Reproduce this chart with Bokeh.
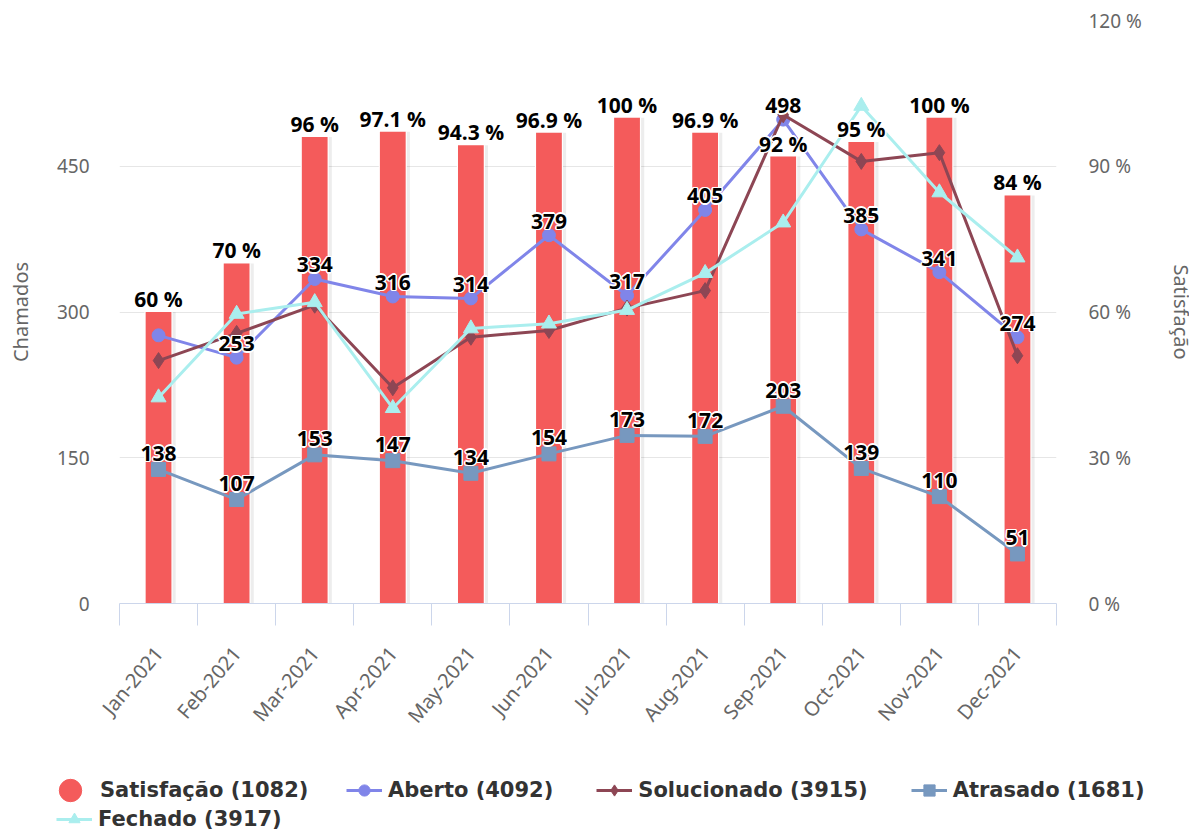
import numpy as np
from bokeh.plotting import figure
from bokeh.models import (Range1d, LinearAxis, FixedTicker, ColumnDataSource, Legend,
                          LegendItem, PrintfTickFormatter)
from bokeh.core.properties import value
from bokeh.embed import file_html
from bokeh.resources import INLINE

# ---------------- data ----------------
months = ["Jan-2021", "Feb-2021", "Mar-2021", "Apr-2021", "May-2021", "Jun-2021",
          "Jul-2021", "Aug-2021", "Sep-2021", "Oct-2021", "Nov-2021", "Dec-2021"]
satisfacao = [60, 70, 96, 97.1, 94.3, 96.9, 100, 96.9, 92, 95, 100, 84]
aberto = [276, 253, 334, 316, 314, 379, 317, 405, 498, 385, 341, 274]
solucionado = [250, 278, 307, 222, 274, 281, 304, 322, 503, 455, 464, 255]
atrasado = [138, 107, 153, 147, 134, 154, 173, 172, 203, 139, 110, 51]
fechado = [212, 298, 310, 201, 283, 288, 302, 340, 392, 512, 423, 356]
left_ticks = [0, 150, 300, 450]
grid_ticks = [0, 150, 300, 450, 600]
right_ticks = [0, 30, 60, 90, 120]
legend_labels = ["Satisfação (1082)", "Aberto (4092)", "Solucionado (3915)",
                 "Atrasado (1681)", "Fechado (3917)"]

C_SAT, C_AB, C_SOL, C_ATR, C_FEC = "#f45b5b", "#8085e9", "#8d4654", "#7798BF", "#aaeeee"
TICK_FONT = "Noto Sans"
LABEL_FONT = "Open Sans"
LEGEND_FONT = "DejaVu Sans"

xs = np.arange(len(months))

src = ColumnDataSource(dict(
    x=xs, sat=satisfacao, ab=aberto, sol=solucionado, atr=atrasado, fec=fechado,
    sat_lbl=[("%g" % v) + " %" for v in satisfacao],
    ab_lbl=[""] + [str(v) for v in aberto[1:]],
    atr_lbl=[str(v) for v in atrasado],
))

p = figure(frame_width=937, frame_height=583,
           x_range=Range1d(-0.5, len(months) - 0.5),
           y_range=Range1d(0, 600), output_backend="svg", toolbar_location=None,
           min_border_left=119, min_border_right=132, min_border_top=20,
           min_border_bottom=140, background_fill_color="white",
           border_fill_color="white")
p.extra_y_ranges = {"pct": Range1d(0, 120)}
p.outline_line_color = None
p.xgrid.grid_line_color = None
p.ygrid.ticker = FixedTicker(ticks=grid_ticks)
p.ygrid.grid_line_color = "#e6e6e6"
p.ygrid.grid_line_width = 1

# x axis (ticks on category boundaries, labels at centers)
xa = p.xaxis[0]
xa.ticker = FixedTicker(ticks=list(xs), minor_ticks=list(np.arange(len(months) + 1) - 0.5))
xa.major_label_overrides = {int(i): m for i, m in zip(xs, months)}
xa.major_label_orientation = 0.87
xa.axis_line_color = "#ccd6eb"
xa.major_tick_line_color = None
xa.major_tick_out = 0
xa.major_tick_in = 0
xa.minor_tick_line_color = "#ccd6eb"
xa.minor_tick_out = 22
xa.minor_tick_in = 0
xa.major_label_standoff = 24
xa.major_label_text_font = TICK_FONT
xa.major_label_text_font_size = "20px"
xa.major_label_text_color = "#666666"

# left axis
ya = p.yaxis[0]
ya.ticker = FixedTicker(ticks=left_ticks)
ya.axis_line_color = None
ya.major_tick_line_color = None
ya.minor_tick_line_color = None
ya.major_tick_out = 0
ya.major_label_standoff = 30
ya.major_label_text_font = TICK_FONT
ya.major_label_text_font_size = "19px"
ya.major_label_text_color = "#666666"
ya.axis_label = "Chamados"
ya.axis_label_text_font = TICK_FONT
ya.axis_label_text_font_size = "20px"
ya.axis_label_text_font_style = "normal"
ya.axis_label_text_color = "#666666"
ya.axis_label_standoff = 20

# right axis
ra = LinearAxis(y_range_name="pct", ticker=FixedTicker(ticks=right_ticks),
                formatter=PrintfTickFormatter(format="%d %%"))
ra.axis_line_color = None
ra.major_tick_line_color = None
ra.minor_tick_line_color = None
ra.major_tick_out = 0
ra.major_label_standoff = 32
ra.major_label_text_font = TICK_FONT
ra.major_label_text_font_size = "19px"
ra.major_label_text_color = "#666666"
ra.axis_label = "Satisfação"
ra.axis_label_text_font = TICK_FONT
ra.axis_label_text_font_size = "20px"
ra.axis_label_text_font_style = "normal"
ra.axis_label_text_color = "#666666"
ra.axis_label_standoff = 23
p.add_layout(ra, "right")

# bars: soft shadow + white border + red column
p.vbar(x=xs + 0.03, top=satisfacao, width=0.38, y_range_name="pct",
       fill_color="#000000", fill_alpha=0.07, line_color=None)
p.vbar(x=xs, top=satisfacao, width=0.36, y_range_name="pct",
       fill_color="white", line_color=None)
p.vbar(x="x", top="sat", width=0.33, source=src, y_range_name="pct",
       fill_color=C_SAT, line_color=None)

# lines
def series(fig, col, color, marker, size):
    ln = fig.line(x="x", y=col, source=src, line_color=color, line_width=3)
    mk = fig.scatter(x="x", y=col, source=src, marker=marker, size=size,
                     fill_color=color, line_color=color)
    return [ln, mk]

series(p, "ab", C_AB, "circle", 13)
series(p, "sol", C_SOL, "diamond", 16)
series(p, "atr", C_ATR, "square", 14)
series(p, "fec", C_FEC, "triangle", 15)

# data labels with white halo
def labels(col, txt, yoff, rng="default"):
    base = dict(source=src, x="x", y=col, text=txt, text_align="center",
                text_baseline="alphabetic", text_font=value(LABEL_FONT),
                text_font_style="bold", text_font_size="21px", y_range_name=rng)
    for dx, dy in [(-1.5, 0), (1.5, 0), (0, -1.5), (0, 1.5),
                   (-1, -1), (1, 1), (-1, 1), (1, -1)]:
        p.text(x_offset=dx, y_offset=yoff + dy, text_color="white", **base)
    p.text(y_offset=yoff, text_color="#000000", **base)

labels("sat", "sat_lbl", -13, "pct")
labels("ab", "ab_lbl", -14)
labels("atr", "atr_lbl", -16)

# ---------------- legend strip (separate root, whole canvas is its frame) ----------------
leg = figure(width=1188, height=91, x_range=Range1d(0, 1), y_range=Range1d(0, 1),
             output_backend="svg", toolbar_location=None, min_border=0,
             x_axis_location=None, y_axis_location=None, title=None,
             background_fill_color="white", border_fill_color="white")
leg.outline_line_color = None
leg.xgrid.visible = False
leg.ygrid.visible = False
# legend symbols (their data lie outside this strip's ranges, so only the legend shows them)
l_sat = leg.scatter(x="x", y="sat", source=src, marker="circle",
                    fill_color=C_SAT, line_color=C_SAT)
l_ab = series(leg, "ab", C_AB, "circle", 10)
l_sol = series(leg, "sol", C_SOL, "diamond", 10)
l_atr = series(leg, "atr", C_ATR, "square", 10)
l_fec = series(leg, "fec", C_FEC, "triangle", 10)

base_kw = dict(orientation="horizontal", padding=0, margin=0,
               border_line_color=None, background_fill_alpha=0,
               label_text_font=LEGEND_FONT, label_text_font_style="bold",
               label_text_font_size="21px", label_text_color="#333333")
line_kw = dict(glyph_width=36, glyph_height=28, label_height=28,
               label_standoff=6, spacing=43, **base_kw)

leg_sat = Legend(items=[LegendItem(label=legend_labels[0], renderers=[l_sat])],
                 location=(42, 16), glyph_width=56, glyph_height=56, label_height=56,
                 label_standoff=2, spacing=0, **base_kw)
leg1 = Legend(items=[LegendItem(label=legend_labels[1], renderers=l_ab),
                     LegendItem(label=legend_labels[2], renderers=l_sol),
                     LegendItem(label=legend_labels[3], renderers=l_atr)],
              location=(346, 30), **line_kw)
leg2 = Legend(items=[LegendItem(label=legend_labels[4], renderers=l_fec)],
              location=(56, 1), **line_kw)
leg.add_layout(leg_sat, "center")
leg.add_layout(leg1, "center")
leg.add_layout(leg2, "center")

open("out.html", "w").write(file_html([p, leg], INLINE))
